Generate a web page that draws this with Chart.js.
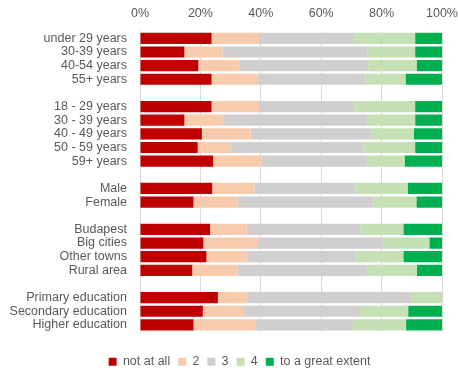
<!DOCTYPE html>
<html>
<head>
<meta charset="utf-8">
<script src="https://cdn.jsdelivr.net/npm/chart.js@4"></script>
<style>
html,body{margin:0;padding:0;background:#fff;}
#wrap{width:458px;height:371px;position:relative;}
</style>
</head>
<body>
<div id="wrap"><canvas id="c"></canvas></div>
<script>
const categories = ["under 29 years","30-39 years","40-54 years","55+ years","",
  "18 - 29 years","30 - 39 years","40 - 49 years","50 - 59 years","59+ years","",
  "Male","Female","",
  "Budapest","Big cities","Other towns","Rural area","",
  "Primary education","Secondary education","Higher education"];
const seriesNames = ["not at all","2","3","4","to a great extent"];
const notAtAll = [23.7,14.7,19.3,23.7,null, 23.7,14.7,20.5,19.1,24.2,null, 23.9,17.7,null, 23.2,21.0,22.0,17.3,null, 25.8,20.8,17.7];
const two      = [15.7,12.6,13.8,15.3,null, 15.7,12.6,16.1,10.8,16.0,null, 14.0,14.6,null, 12.1,18.1,13.3,15.0,null, 9.5,13.3,20.7];
const three    = [31.5,48.1,42.5,35.7,null, 31.5,48.1,39.9,44.0,35.0,null, 33.5,45.0,null, 37.6,41.3,36.1,42.9,null, 54.4,38.4,32.4];
const four     = [20.2,15.7,16.0,13.2,null, 20.2,15.7,14.2,17.2,12.4,null, 17.2,14.2,null, 14.3,15.4,15.8,16.5,null, 10.3,16.3,17.3];
const great    = [8.9,8.9,8.4,12.1,null, 8.9,8.9,9.3,8.9,12.4,null, 11.4,8.5,null, 12.8,4.2,12.8,8.3,null, 0,11.2,11.9];
const tickLabels = ["0%","20%","40%","60%","80%","100%"];
const colors = ["#C00000","#F8CBAD","#D0CECE","#C5E0B4","#00B050"];
const seriesData = [notAtAll,two,three,four,great];

const FONT = "'Liberation Sans', Arial, sans-serif";
const legendShift = {
  id: 'legendShift',
  afterLayout(chart) {
    if (chart.legend) { chart.legend.left += 10.5; chart.legend.right += 10.5; }
  }
};
new Chart(document.getElementById('c'), {
  type: 'bar',
  data: {
    labels: categories,
    datasets: seriesNames.map((n,i)=>({
      label: n, data: seriesData[i], backgroundColor: colors[i],
      borderWidth: 0, barPercentage: 0.82, categoryPercentage: 1.0
    }))
  },
  plugins: [legendShift],
  options: {
    indexAxis: 'y',
    responsive: true,
    maintainAspectRatio: false,
    animation: false,
    layout: { padding: { left: 0, right: 0, top: 0, bottom: -7 } },
    plugins: {
      legend: {
        position: 'bottom',
        title: { display: true, text: ' ', font: { size: 10 }, padding: { top: 3.75, bottom: 0 } },
        labels: { boxWidth: 8, boxHeight: 8, padding: 8, color: '#595959', font: { family: FONT, size: 12.5 } }
      },
      tooltip: { enabled: false }
    },
    scales: {
      x: {
        position: 'top', stacked: true, min: 0, max: 100,
        afterFit: (s) => { s.height = 31.5; s.paddingRight = 16; },
        ticks: { stepSize: 20, color: '#595959', font: { family: FONT, size: 12.5 }, padding: 10,
          callback: (v,i)=> tickLabels[i] },
        grid: { color: '#D9D9D9', lineWidth: 1, drawTicks: false },
        border: { display: false }
      },
      y: {
        stacked: true,
        afterFit: (s) => { s.width = 140; },
        ticks: { color: '#595959', font: { family: FONT, size: 12.5 }, padding: 13, autoSkip: false },
        grid: { display: false, drawTicks: false },
        border: { display: true, color: '#D9D9D9' }
      }
    }
  }
});
</script>
</body>
</html>
